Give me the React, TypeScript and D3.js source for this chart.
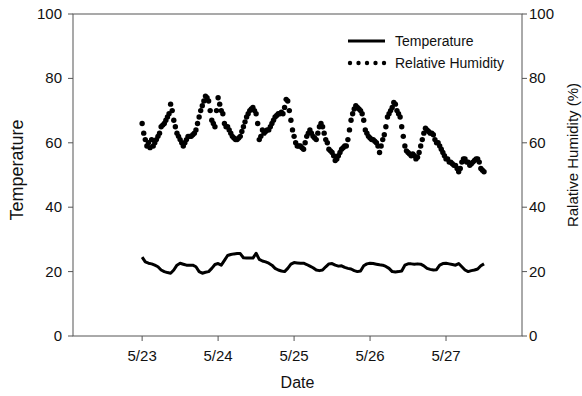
import React from "react";
import * as d3 from "d3";

// readings start 5/23 00:00
const startDay = 23;
// temperature, hourly
const temperature = [
  24.5, 23, 22.6, 22.4, 22, 21.5, 20.5, 20, 19.7, 19.5, 20.5, 22, 22.6, 22.3, 22, 22, 22, 21.5, 20, 19.5, 19.8, 20, 21, 22.2,
  22.5, 22, 23.5, 25, 25.3, 25.5, 25.6, 25.6, 24.3, 24.2, 24.2, 24.2, 25.7, 23.8, 23.3, 23, 22.6, 22, 21, 20.5, 20.2, 20, 21, 22.3,
  22.8, 22.7, 22.6, 22.6, 22.2, 21.7, 21.2, 20.5, 20.3, 20.5, 21.5, 22.4, 22.5, 22, 21.7, 21.8, 21.3, 21, 20.8, 20.3, 20, 20.2, 21.8, 22.4,
  22.6, 22.5, 22.3, 22.1, 22, 21.6, 21, 20, 19.9, 20, 20.2, 22, 22.4, 22.4, 22.3, 22.4, 22.3, 21.8, 21, 20.7, 20.5, 20.6, 22, 22.5,
  22.6, 22.4, 22.2, 22, 22.5, 21.5, 20.5, 20, 20.3, 20.5, 20.8, 21.8, 22.4,
];
// relative humidity, every half hour
const humidity = [
  66, 63, 61, 59, 60, 58.5, 61, 59, 60, 61, 62, 63, 65, 65.5, 66, 67, 68, 69, 72, 70, 67, 65, 63, 62,
  61, 60, 59, 60, 61, 62, 62, 62, 62.5, 63, 64, 66, 68, 70, 71.5, 73, 74.5, 74, 73, 70, 67, 66, 65, 70,
  74, 72, 70, 69, 66, 65, 65, 64, 63, 62, 61.5, 61, 61, 61.5, 62, 63.5, 65, 66.5, 68, 69, 70, 70.5, 71, 70,
  69, 66, 61, 62, 64, 63, 63.5, 64, 64, 65, 66, 67, 68, 68.5, 69, 69, 69.5, 69, 71, 73.5, 73, 70, 67, 64,
  62, 60, 59, 59, 59, 58.5, 58, 60, 62, 63, 64, 63, 62, 61.5, 61, 63, 65, 66, 65, 63, 61, 60, 58, 57.5,
  57, 56, 54.5, 55, 56, 57, 58, 58.5, 59, 59, 61, 64, 67, 69, 70.5, 71.5, 71, 70.5, 70, 69, 67, 64, 63, 62,
  61.5, 61, 61, 60.5, 60, 59, 57, 59, 61, 62.5, 65, 68, 69, 70, 71, 72.5, 72, 70, 69, 68, 65, 62, 59, 57.5,
  57, 56.5, 56, 56.5, 56, 55, 55.5, 57, 59, 61, 63, 64.5, 64, 63.5, 63, 63, 62.5, 61, 60, 60, 59, 58, 57, 56,
  55, 55, 54, 54, 53.5, 53, 53, 52, 51, 52, 54, 55, 55, 54, 54, 53, 53.5, 54, 54.5, 55, 55, 54, 52, 51.5,
  51,
];
const dateTicks = [23, 24, 25, 26, 27];
const valueTicks = [0, 20, 40, 60, 80, 100];

const W = 582;
const H = 396;
const left = 73;
const right = 522;
const top = 14;
const bottom = 336;
const font = "Arial, 'Liberation Sans', sans-serif";
const axisColor = "#555";

export default function App() {
  const x = d3.scaleLinear().domain([22.09, 28.0]).range([left, right]);
  const y = d3.scaleLinear().domain([0, 100]).range([bottom, top]);

  const line = d3
    .line<number>()
    .x((_, i) => x(startDay + i / 24))
    .y((d) => y(d));

  return (
    <svg width={W} height={H} style={{ position: "absolute", left: 0, top: 0, background: "#fff" }} fontFamily={font}>
      <rect x={left} y={top} width={right - left} height={bottom - top} fill="none" stroke={axisColor} strokeWidth={1} />

      {/* x axis */}
      {dateTicks.map((d) => (
        <g key={d}>
          <line x1={x(d)} x2={x(d)} y1={bottom} y2={bottom + 5} stroke={axisColor} />
          <text x={x(d)} y={361} textAnchor="middle" fontSize={15} fill="#111">
            5/{d}
          </text>
        </g>
      ))}
      <text x={(left + right) / 2} y={388} textAnchor="middle" fontSize={16} fill="#111">
        Date
      </text>

      {/* left axis */}
      {valueTicks.map((v) => (
        <g key={"l" + v}>
          <line x1={left - 5} x2={left} y1={y(v)} y2={y(v)} stroke={axisColor} />
          <text x={62} y={y(v) + 5} textAnchor="end" fontSize={15} fill="#111">
            {v}
          </text>
        </g>
      ))}
      <text transform={`translate(23,170)rotate(-90)`} textAnchor="middle" fontSize={18} fill="#111">
        Temperature
      </text>

      {/* right axis */}
      {valueTicks.map((v) => (
        <g key={"r" + v}>
          <line x1={right} x2={right + 5} y1={y(v)} y2={y(v)} stroke={axisColor} />
          <text x={529} y={y(v) + 5} textAnchor="start" fontSize={15} fill="#111">
            {v}
          </text>
        </g>
      ))}
      <text transform={`translate(578,155)rotate(-90)`} textAnchor="middle" fontSize={15} fill="#111">
        Ralative Humidity (%)
      </text>

      {/* temperature line */}
      <path d={line(temperature) ?? ""} fill="none" stroke="#000" strokeWidth={3} strokeLinejoin="round" />

      {/* humidity dots */}
      {humidity.map((h, i) => (
        <circle key={i} cx={x(startDay + i / 48)} cy={y(h)} r={2.7} fill="#000" />
      ))}

      {/* legend */}
      <line x1={348} x2={385} y1={41} y2={41} stroke="#000" strokeWidth={3} />
      <text x={395} y={46} fontSize={14} fill="#111">
        Temperature
      </text>
      {[0, 1, 2, 3, 4].map((k) => (
        <circle key={k} cx={350 + k * 8.5} cy={63} r={2.2} fill="#000" />
      ))}
      <text x={395} y={68} fontSize={14} fill="#111">
        Relative Humidity
      </text>
    </svg>
  );
}
